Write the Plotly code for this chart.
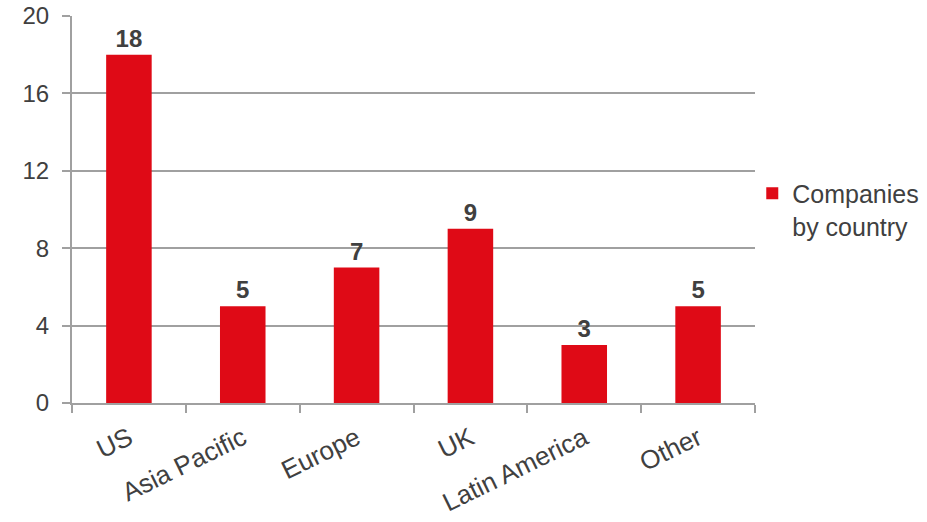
import plotly.graph_objects as go

categories = ["US", "Asia Pacific", "Europe", "UK", "Latin America", "Other"]
values = [18, 5, 7, 9, 3, 5]
y_ticks = [0, 4, 8, 12, 16, 20]
series_name = "Companies<br>by country"

RED = "#DF0A16"
TXT = "#404040"
GRID = "#A0A0A0"
FONT = "Liberation Sans, Arial, sans-serif"

fig = go.Figure()
fig.add_trace(go.Bar(
    x=categories, y=values, name=series_name,
    marker=dict(color=RED, line=dict(width=0)),
    text=[str(v) for v in values], textposition="outside",
    textfont=dict(family=FONT, size=24, color=TXT, weight="bold"),
    cliponaxis=False, showlegend=True,
))

fig.update_layout(
    width=927, height=522,
    margin=dict(l=72, r=172, t=16, b=119, autoexpand=False),
    paper_bgcolor="white", plot_bgcolor="white",
    font=dict(family=FONT, size=24, color=TXT),
    bargap=0.6,
    legend=dict(x=0.996, y=0.5, xanchor="left", yanchor="middle",
                font=dict(size=25, color=TXT), itemwidth=30, valign="top",
                bgcolor="rgba(0,0,0,0)"),
)
fig.update_xaxes(
    tickangle=-26, tickson="boundaries", ticks="outside", ticklen=8,
    tickcolor=GRID, tickwidth=2, showline=True, linecolor=GRID, linewidth=2,
    showgrid=False, tickfont=dict(size=26, color=TXT),
    automargin=False, ticklabelstandoff=8,
)
fig.update_yaxes(
    range=[0, 20], tickvals=y_ticks, ticks="outside", ticklen=8,
    tickcolor=GRID, tickwidth=2, showline=True, linecolor=GRID, linewidth=2,
    showgrid=True, gridcolor=GRID, gridwidth=2, zeroline=False,
    tickfont=dict(size=24, color=TXT),
    automargin=False, ticklabelstandoff=8,
)

fig.write_html("out.html")
